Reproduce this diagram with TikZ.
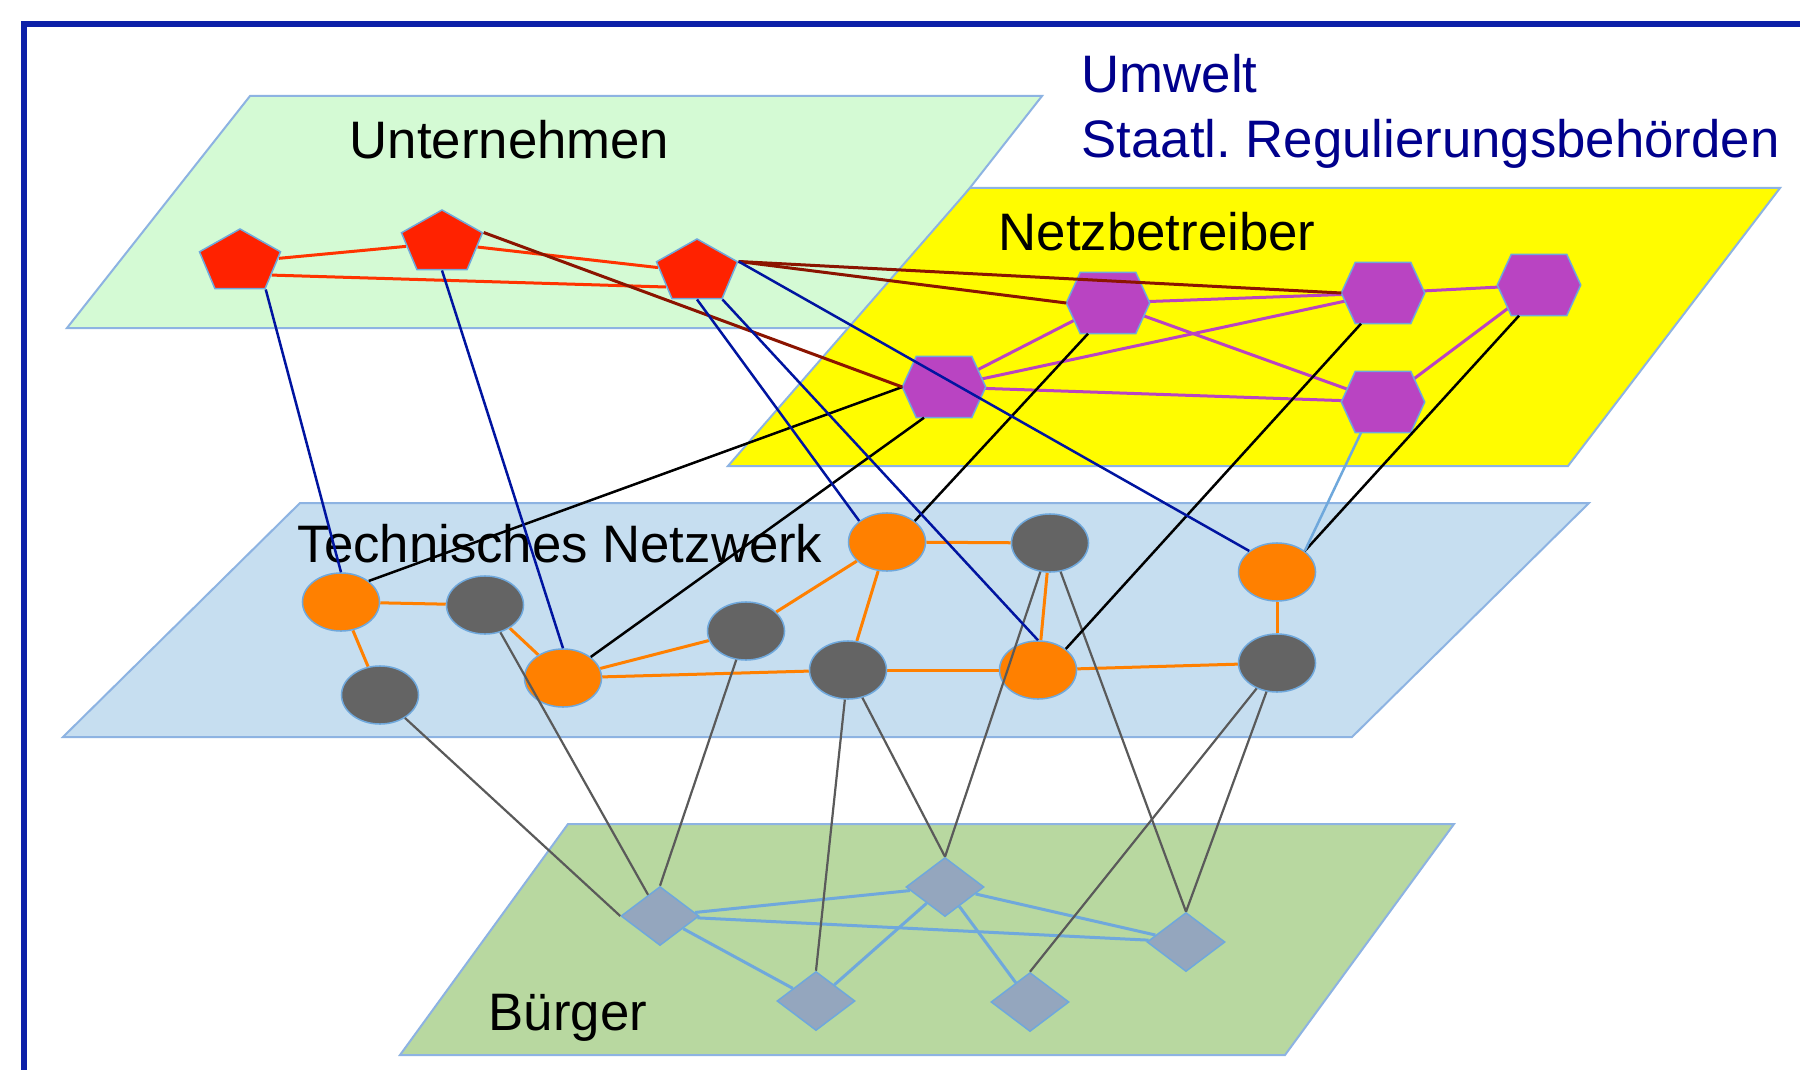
\documentclass[tikz,border=0pt]{standalone}
\usepackage{fontspec}
\setmainfont{Liberation Sans}
\usetikzlibrary{shapes.geometric}
\frenchspacing
\definecolor{framec}{RGB}{12,32,168}
\definecolor{navytxt}{RGB}{0,0,140}
\definecolor{planeU}{RGB}{212,250,212}
\definecolor{planeN}{RGB}{255,252,0}
\definecolor{planeT}{RGB}{198,222,240}
\definecolor{planeB}{RGB}{184,216,160}
\definecolor{planeline}{RGB}{141,179,226}
\definecolor{pentc}{RGB}{255,34,0}
\definecolor{redE}{RGB}{255,51,0}
\definecolor{darkredE}{RGB}{139,20,0}
\definecolor{navyE}{RGB}{0,20,160}
\definecolor{lblue}{RGB}{111,168,220}
\definecolor{purp}{RGB}{185,68,194}
\definecolor{orng}{RGB}{255,128,0}
\definecolor{greyN}{RGB}{100,100,100}
\definecolor{greyE}{RGB}{90,90,90}
\definecolor{diamc}{RGB}{148,166,190}
\pgfdeclarelayer{back}
\pgfdeclarelayer{mid}
\pgfsetlayers{back,mid,main}
\begin{document}
\begin{tikzpicture}[x=0.01cm,y=-0.01cm,
  plane/.style={draw=planeline,line width=0.02cm},
  lbl/.style={inner sep=0pt,anchor=base west,font=\fontsize{15pt}{18pt}\selectfont},
  pent/.style={regular polygon,regular polygon sides=5,minimum size=0.66cm,inner sep=0pt,
    xscale=1.29,transform shape,fill=pentc,draw=lblue,line width=0.015cm},
  hexa/.style={rectangle,minimum width=0.82cm,minimum height=0.6cm,inner sep=0pt},
  hexfill/.style={fill=purp,draw=lblue,line width=0.015cm},
  ornode/.style={ellipse,minimum width=0.77cm,minimum height=0.58cm,inner sep=0pt,fill=orng,draw=lblue,line width=0.015cm},
  grnode/.style={ellipse,minimum width=0.77cm,minimum height=0.58cm,inner sep=0pt,fill=greyN,draw=lblue,line width=0.015cm},
  diam/.style={diamond,minimum width=0.78cm,minimum height=0.59cm,inner sep=0pt,fill=diamc,draw=lblue,line width=0.015cm},
  redline/.style={draw=redE,line width=0.03cm},
  drline/.style={draw=darkredE,line width=0.03cm},
  nvline/.style={draw=navyE,line width=0.025cm},
  bkline/.style={draw=black,line width=0.025cm},
  lbline/.style={draw=lblue,line width=0.025cm},
  ppline/.style={draw=purp,line width=0.03cm},
  orline/.style={draw=orng,line width=0.03cm},
  gyline/.style={draw=greyE,line width=0.022cm},
  dbline/.style={draw=lblue,line width=0.03cm}
]
\useasboundingbox (0,0) rectangle (1800,1070);
\clip (0,0) rectangle (1800,1070);

\begin{pgfonlayer}{back}
\fill[white] (0,0) rectangle (1800,1070);
% planes
\filldraw[plane,fill=planeU] (250,96) -- (1042,96) -- (860,328) -- (67,328) -- cycle;
\filldraw[plane,fill=planeN] (970,188) -- (1780,188) -- (1568,466) -- (728,466) -- cycle;
\filldraw[plane,fill=planeT] (300,503) -- (1589,503) -- (1352,737) -- (63,737) -- cycle;
\filldraw[plane,fill=planeB] (568,824) -- (1454,824) -- (1285,1055) -- (400,1055) -- cycle;
\draw[framec,line width=0.055cm] (24,24) rectangle (1850,1120);
% labels
\node[lbl] (tU) at (349,159) {Unternehmen};
\node[lbl,text=navytxt] (tUm) at (1081,93) {Umwelt};
\node[lbl,text=navytxt] (tSt) at (1081,158) {Staatl. Regulierungsbehörden};
\node[lbl] (tN) at (998,250) {Netzbetreiber};
\node[lbl] (tT) at (297,562) {Technisches Netzwerk};
\node[lbl] (tB) at (488,1030) {Bürger};
\end{pgfonlayer}

% Unternehmen
\node[pent] (P1) at (240,262) {};
\node[pent] (P2) at (442,243) {};
\node[pent] (P3) at (697,272) {};
% Netzbetreiber
\node[hexa] (H1) at (1108,303) {};
\node[hexa] (H2) at (1383,293) {};
\node[hexa] (H3) at (1539,285) {};
\node[hexa] (H4) at (944,387) {};
\node[hexa] (H5) at (1383,402) {};
\foreach \h in {H1,H2,H3,H4,H5}
  \filldraw[hexfill] (\h.west) -- ([xshift=0.14cm]\h.north west) -- ([xshift=-0.14cm]\h.north east)
    -- (\h.east) -- ([xshift=-0.14cm]\h.south east) -- ([xshift=0.14cm]\h.south west) -- cycle;
% Technisches Netzwerk
\node[ornode] (E1) at (341,602) {};
\node[grnode] (E2) at (485,605) {};
\node[grnode] (E3) at (380,695) {};
\node[ornode] (E4) at (563,678) {};
\node[grnode] (E5) at (746,631) {};
\node[grnode] (E6) at (848,670) {};
\node[ornode] (E7) at (887,542) {};
\node[grnode] (E8) at (1050,543) {};
\node[ornode] (E9) at (1038,670) {};
\node[ornode] (E10) at (1277,572) {};
\node[grnode] (E11) at (1277,663) {};
% Buerger
\node[diam] (D1) at (660,916) {};
\node[diam] (D2) at (945,887) {};
\node[diam] (D3) at (1186,942) {};
\node[diam] (D4) at (816,1001) {};
\node[diam] (D5) at (1030,1002) {};

% edges within planes (under the nodes)
\begin{pgfonlayer}{mid}
\draw[redline] (P1) -- (P2);
\draw[redline] (P1.-28) -- (P3.212);
\draw[redline] (P2) -- (P3);

\draw[ppline] (H1.center) -- (H2.center);
\draw[ppline] (H2.center) -- (H3.center);
\draw[ppline] (H1.center) -- (H5.center);
\draw[ppline] (H4.center) -- (H1.center);
\draw[ppline] (H4.center) -- (H2.center);
\draw[ppline] (H4.center) -- (H5.center);
\draw[ppline] (H5.center) -- (H3.center);

\draw[orline] (E1) -- (E2);
\draw[orline] (E1) -- (E3);
\draw[orline] (E2) -- (E4);
\draw[orline] (E4) -- (E5);
\draw[orline] (E4) -- (E6);
\draw[orline] (E5) -- (E7);
\draw[orline] (E7) -- (E8);
\draw[orline] (E7) -- (E6);
\draw[orline] (E6) -- (E9);
\draw[orline] (E8) -- (E9);
\draw[orline] (E9) -- (E11);
\draw[orline] (E10) -- (E11);

\draw[dbline] (D1) -- (D2);
\draw[dbline] (D1) -- (D3);
\draw[dbline] (D1) -- (D4);
\draw[dbline] (D2) -- (D3);
\draw[dbline] (D2) -- (D4);
\draw[dbline] (D2) -- (D5);
\end{pgfonlayer}

% edges between planes
\draw[gyline] (E3) -- (D1.west);
\draw[gyline] (E2) -- (D1);
\draw[gyline] (E5) -- (D1.north);
\draw[gyline] (E6) -- (D4.north);
\draw[gyline] (E6) -- (D2.north);
\draw[gyline] (E8) -- (D2.north);
\draw[gyline] (E8) -- (D3.north);
\draw[gyline] (E11) -- (D5.north);
\draw[gyline] (E11) -- (D3.north);

\draw[bkline] (H4.west) -- (E1.north east);
\draw[bkline] ([xshift=-0.2cm]H4.south) -- (E4.north east);
\draw[bkline] ([xshift=-0.2cm]H1.south) -- (E7.north east);
\draw[bkline] ([xshift=-0.22cm]H2.south) -- (E9.north east);
\draw[bkline] ([xshift=-0.2cm]H3.south) -- (E10.north east);
\draw[lbline] ([xshift=-0.22cm]H5.south) -- (E10.north east);

\draw[drline] (P2.corner 5) -- (H4.west);
\draw[drline] (P3.corner 5) -- (H1.west);
\draw[drline] (P3.corner 5) -- (H2.west);

\draw[nvline] (P1.corner 4) -- (E1.north);
\draw[nvline] (P2.south) -- (E4.north);
\draw[nvline] (P3.south) -- (E7.north west);
\draw[nvline] (P3) -- (E9.north);
\draw[nvline] (P3.corner 5) -- (E10.north west);
\end{tikzpicture}
\end{document}
